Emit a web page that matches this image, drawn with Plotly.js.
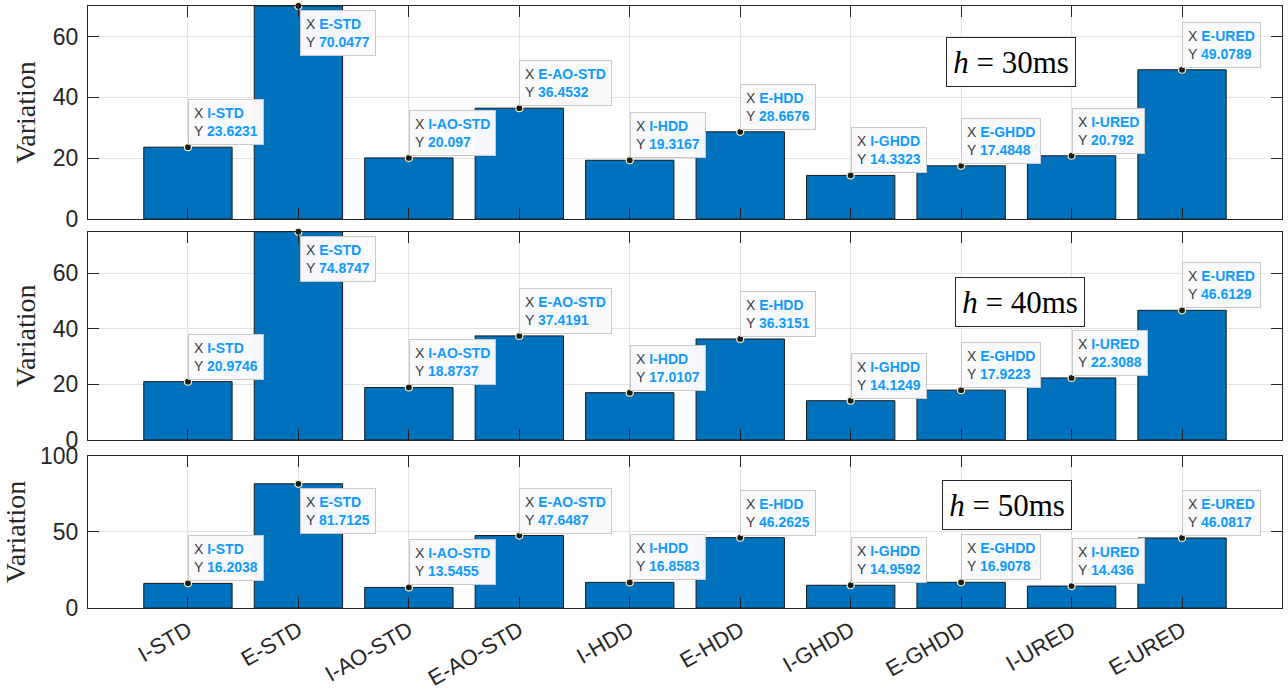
<!DOCTYPE html>
<html>
<head>
<meta charset="utf-8">
<script src="https://cdn.plot.ly/plotly-3.0.1.min.js"></script>
<style>html,body{margin:0;padding:0;background:#fff;}#chart{width:1288px;height:700px;}</style>
</head>
<body>
<div id="chart"></div>
<script>
const categories = ['I-STD','E-STD','I-AO-STD','E-AO-STD','I-HDD','E-HDD','I-GHDD','E-GHDD','I-URED','E-URED'];
const values30 = [23.6231,70.0477,20.097,36.4532,19.3167,28.6676,14.3323,17.4848,20.792,49.0789];
const values40 = [20.9746,74.8747,18.8737,37.4191,17.0107,36.3151,14.1249,17.9223,22.3088,46.6129];
const values50 = [16.2038,81.7125,13.5455,47.6487,16.8583,46.2625,14.9592,16.9078,14.436,46.0817];
const panelLabels = ['30','40','50'];
const yRanges = [[0,70.05],[0,74.88],[0,100]];
const yTicks = [[0,20,40,60],[0,20,40,60],[0,50,100]];
const tipBelow = ['E-STD'];

const panels = [values30, values40, values50];
const domains = [[0.6462,1],[0.2791,0.6251],[0,0.2525]];
const labelPos = [[0.773,0.737],[0.7806,0.6625],[0.7697,0.678]];
const barColor = '#0072BD';
const tipBlue = '#0f9bff';
const serif = 'Liberation Serif';

const traces = [];
const annotations = [];
const layout = {
  width:1288, height:700,
  margin:{l:88,r:6,t:6,b:92},
  paper_bgcolor:'#fff', plot_bgcolor:'#fff',
  showlegend:false,
  font:{family:'Liberation Sans, Arial, sans-serif', color:'#262626'},
  annotations: annotations
};

panels.forEach((vals,i)=>{
  const n = i===0 ? '' : String(i+1);
  const xa = 'x'+n, ya = 'y'+n;
  traces.push({
    type:'bar', x:categories, y:vals, xaxis:xa, yaxis:ya, width:0.8,
    marker:{color:barColor, line:{color:'#1a1a1a', width:1}}, hoverinfo:'skip'
  });
  traces.push({
    type:'scatter', mode:'markers', x:categories, y:vals, xaxis:xa, yaxis:ya,
    cliponaxis:false,
    marker:{color:'#1a1a1a', size:7, line:{color:'#f2efc4', width:1.2}}, hoverinfo:'skip'
  });
  layout['xaxis'+n] = {
    type:'category', categoryorder:'array', categoryarray:categories,
    range:[-0.905,9.905], anchor:ya, matches: i===0 ? undefined : 'x',
    showticklabels: i===2, tickangle:-30,
    tickfont:{size:22, color:'#262626'},
    ticks:'inside', ticklen:11, tickcolor:'#262626', mirror:'allticks',
    showline:true, linecolor:'#262626', linewidth:1,
    showgrid:true, gridcolor:'#e3e3e3', gridwidth:1, zeroline:false
  };
  layout['yaxis'+n] = {
    domain:domains[i], anchor:xa, range:yRanges[i], tickvals:yTicks[i],
    tickfont:{size:23, color:'#262626'},
    ticks:'inside', ticklen:11, tickcolor:'#262626', mirror:'allticks',
    showline:true, linecolor:'#262626', linewidth:1, ticklabelstandoff:4,
    showgrid:true, gridcolor:'#e3e3e3', gridwidth:1, zeroline:false,
    title:{text:'<span style="font-family:\'Liberation Serif\'">Variation</span>', font:{family:serif, size:28, color:'#262626'}, standoff:8}
  };
  vals.forEach((v,k)=>{
    const below = tipBelow.includes(categories[k]);
    annotations.push({
      xref:xa, yref:ya, x:categories[k], y:v, showarrow:false,
      xanchor:'left', yanchor: below ? 'top' : 'bottom',
      xshift: below ? 2 : 0, yshift: below ? -4 : 2,
      align:'left',
      text:'X <span style="color:'+tipBlue+'"><b>'+categories[k]+'</b></span><br>Y <span style="color:'+tipBlue+'"><b>'+String(v)+'</b></span>',
      font:{family:'Liberation Sans, Arial, sans-serif', size:14, color:'#3c3c3c'},
      bgcolor:'rgba(250,250,253,0.98)', bordercolor:'#c8c8c8', borderwidth:1, borderpad:5
    });
  });
  annotations.push({
    xref:xa+' domain', yref:ya+' domain', x:labelPos[i][0], y:labelPos[i][1],
    xanchor:'center', yanchor:'middle', showarrow:false,
    text:'<i>h</i>\u2005=\u2005'+panelLabels[i]+'ms',
    font:{family:serif, size:31, color:'#000'},
    width:126, height:46,
    bgcolor:'#fff', bordercolor:'#262626', borderwidth:1, borderpad:1
  });
});

Plotly.newPlot('chart', traces, layout, {displayModeBar:false, staticPlot:true});
</script>
</body>
</html>
